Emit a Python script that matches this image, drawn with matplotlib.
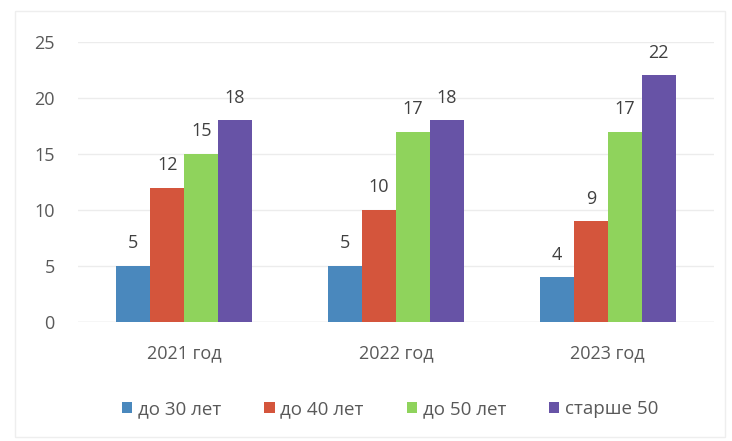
import numpy as np
import matplotlib.pyplot as plt
from matplotlib.patches import Rectangle

years = ["2021 год", "2022 год", "2023 год"]
series = ["до 30 лет", "до 40 лет", "до 50 лет", "старше 50"]
under30 = [5, 5, 4]
under40 = [12, 10, 9]
under50 = [15, 17, 17]
over50 = [18, 18, 22]
colors = ["#4a88bd", "#d4553c", "#8fd35c", "#6753a6"]

plt.rcParams["font.family"] = ["Open Sans", "DejaVu Sans"]

fig = plt.figure(figsize=(7.32, 4.41), dpi=100)
ax = fig.add_axes([0.107, 0.270, 0.868, 0.635])

x = np.arange(len(years))
w = 0.16
for i, (vals, name) in enumerate(zip([under30, under40, under50, over50], series)):
    pos = x + (i - 1.5) * w
    bars = ax.bar(pos, vals, w, color=colors[i], label=name, zorder=2)
    for b, v in zip(bars, vals):
        ax.text(b.get_x() + b.get_width() / 2, v + 1.2, str(v),
                ha="center", va="bottom", fontsize=13, color="#404040")

ax.set_xlim(-0.5, 2.5)
ax.set_ylim(0, 25)
ax.set_yticks(range(0, 26, 5))
ax.yaxis.grid(True, color="#ececec", linewidth=1, zorder=0)
ax.set_xticks(x)
ax.set_xticklabels(years)
ax.tick_params(axis="both", length=0, labelsize=13, labelcolor="#595959")
ax.tick_params(axis="x", pad=16)
ax.tick_params(axis="y", pad=17)
for s in ax.spines.values():
    s.set_visible(False)
ax.axhline(0, color="#e4e4e4", linewidth=1, zorder=1)

fig.legend(loc="center", bbox_to_anchor=(0.533, 0.073), ncol=4, frameon=False,
           fontsize=13.5, handlelength=0.55, handleheight=0.55, handletextpad=0.3,
           columnspacing=2.3, labelcolor="#595959")

fig.patches.append(Rectangle((0.02, 0.01), 0.97, 0.965, transform=fig.transFigure,
                             fill=False, edgecolor="#eeeeee", linewidth=1))

fig.savefig("out.png", dpi=100)
